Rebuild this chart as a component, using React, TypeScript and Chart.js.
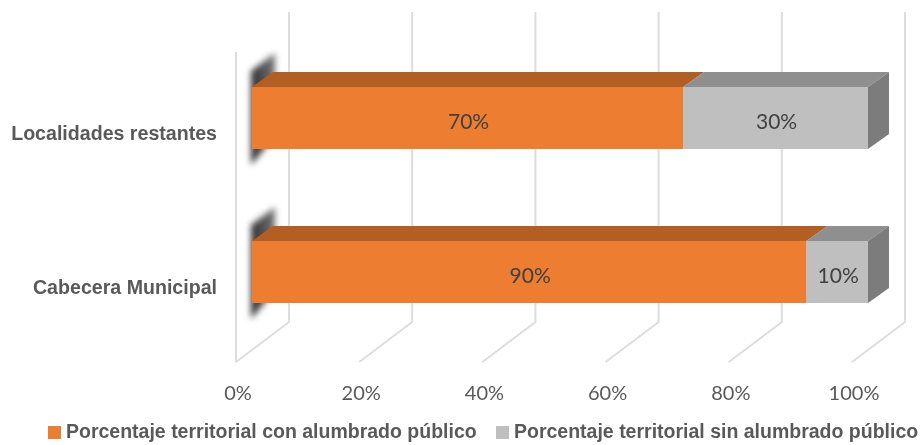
import React, { useEffect, useRef } from "react";
import { Chart, registerables } from "chart.js";

Chart.register(...registerables);

const categories = ["Localidades restantes", "Cabecera Municipal"];
const seriesCon = [70, 90];
const seriesSin = [30, 10];
const seriesNames = ["Porcentaje territorial con alumbrado público", "Porcentaje territorial sin alumbrado público"];
const tickValues = [0, 20, 40, 60, 80, 100];

const ORANGE = "#ED7D31";
const GREY = "#BFBFBF";
const ORANGE_TOP = "#B35E23";
const GREY_TOP = "#8F8F8F";
const GREY_SIDE = "#7C7C7C";
const WALL = "#DDDDDD";
const BAR_DX = 21;
const BAR_DY = 15;
const LEGEND_X = [48, 496];
const LEGEND_Y = 433;
const LEGEND_FONT = "bold 19.5px 'Liberation Sans'";

const threeD = {
  id: "threeD",
  beforeDatasetsDraw(chart: any) {
    const { ctx, scales } = chart;
    const x = scales.x;
    const m0 = chart.getDatasetMeta(0);
    const m1 = chart.getDatasetMeta(1);
    const area = chart.chartArea;
    ctx.save();
    // walls and floor
    const backTop = area.top - 29;
    const backBottom = area.bottom - 27;
    const frontBottom = area.bottom + 13;
    ctx.strokeStyle = WALL;
    ctx.lineWidth = 2;
    tickValues.forEach((v) => {
      const p = x.getPixelForValue(v);
      ctx.beginPath();
      ctx.moveTo(p + 37, backTop);
      ctx.lineTo(p + 37, backBottom);
      ctx.lineTo(p - 16, frontBottom);
      ctx.stroke();
    });
    const p0 = x.getPixelForValue(0) - 16;
    ctx.beginPath();
    ctx.moveTo(p0, backTop + 40);
    ctx.lineTo(p0, frontBottom);
    ctx.stroke();

    // fuzzy shadow at the start of each bar
    m0.data.forEach((b: any) => {
      const top = b.y - b.height / 2;
      const bot = b.y + b.height / 2;
      ctx.save();
      ctx.filter = "blur(3px)";
      const g = ctx.createLinearGradient(b.base, 0, b.base + 24, 0);
      g.addColorStop(0, "#303030");
      g.addColorStop(1, "#7a7a7a");
      ctx.fillStyle = g;
      ctx.beginPath();
      ctx.moveTo(b.base - 1, top - 16);
      ctx.lineTo(b.base + 23, top - 34);
      ctx.lineTo(b.base + 23, bot - 12);
      ctx.lineTo(b.base - 1, bot + 16);
      ctx.closePath();
      ctx.fill();
      ctx.restore();
    });

    // top faces and right side
    const face = (pts: number[][], color: string) => {
      ctx.fillStyle = color;
      ctx.beginPath();
      pts.forEach((q, i) => (i ? ctx.lineTo(q[0], q[1]) : ctx.moveTo(q[0], q[1])));
      ctx.closePath();
      ctx.fill();
    };
    [
      { meta: m0, color: ORANGE_TOP },
      { meta: m1, color: GREY_TOP },
    ].forEach(({ meta, color }) => {
      meta.data.forEach((b: any) => {
        const top = b.y - b.height / 2;
        face(
          [
            [b.base, top],
            [b.x, top],
            [b.x + BAR_DX, top - BAR_DY],
            [b.base + BAR_DX, top - BAR_DY],
          ],
          color
        );
      });
    });
    m1.data.forEach((b: any) => {
      const top = b.y - b.height / 2;
      const bot = b.y + b.height / 2;
      face(
        [
          [b.x, top],
          [b.x + BAR_DX, top - BAR_DY],
          [b.x + BAR_DX, bot - BAR_DY],
          [b.x, bot],
        ],
        GREY_SIDE
      );
    });
    ctx.restore();
  },
  afterDatasetsDraw(chart: any) {
    const { ctx } = chart;
    ctx.save();
    ctx.font = "21px Lato";
    ctx.fillStyle = "#404040";
    ctx.textAlign = "center";
    ctx.textBaseline = "middle";
    chart.data.datasets.forEach((ds: any, di: number) => {
      chart.getDatasetMeta(di).data.forEach((b: any, i: number) => {
        ctx.fillText(ds.data[i] + "%", (b.base + b.x) / 2 + 1, b.y + 4);
      });
    });
    // legend
    ctx.font = LEGEND_FONT;
    ctx.textAlign = "left";
    chart.data.datasets.forEach((ds: any, di: number) => {
      const lx = LEGEND_X[di];
      ctx.fillStyle = ds.backgroundColor;
      ctx.fillRect(lx, LEGEND_Y - 7, 13, 13);
      ctx.fillStyle = "#595959";
      ctx.fillText(ds.label, lx + 18, LEGEND_Y);
    });
    ctx.restore();
  },
};

export default function App() {
  const ref = useRef<HTMLCanvasElement>(null);
  useEffect(() => {
    const chart = new Chart(ref.current!, {
      type: "bar",
      data: {
        labels: categories,
        datasets: [
          { label: seriesNames[0], data: seriesCon, backgroundColor: ORANGE },
          { label: seriesNames[1], data: seriesSin, backgroundColor: GREY },
        ],
      },
      options: {
        indexAxis: "y",
        animation: false,
        responsive: false,
        barPercentage: 0.403,
        categoryPercentage: 1,
        layout: { autoPadding: false, padding: { top: 41, right: 52, bottom: 0, left: 0 } },
        scales: {
          x: {
            stacked: true,
            min: 0,
            max: 100,
            grid: { display: false },
            border: { display: false },
            afterFit: (s: any) => {
              s.height = 96;
            },
            ticks: {
              stepSize: 20,
              maxRotation: 0,
              padding: 25,
              labelOffset: -14,
              color: "#595959",
              font: { family: "Lato", size: 20 },
              callback: (v: any) => v + "%",
            },
          },
          y: {
            stacked: true,
            grid: { display: false },
            border: { display: false },
            afterFit: (s: any) => {
              s.width = 252;
            },
            ticks: {
              padding: 27,
              labelOffset: 17,
              color: "#595959",
              font: { family: "Liberation Sans", size: 19.6, weight: "bold" },
            },
          },
        },
        plugins: {
          tooltip: { enabled: false },
          legend: { display: false },
        },
      },
      plugins: [threeD],
    } as any);
    return () => chart.destroy();
  }, []);
  return (
    <div style={{ position: "fixed", left: 0, top: 0, width: 920, height: 445 }}>
      <canvas ref={ref} width={920} height={445} style={{ display: "block" }} />
    </div>
  );
}
